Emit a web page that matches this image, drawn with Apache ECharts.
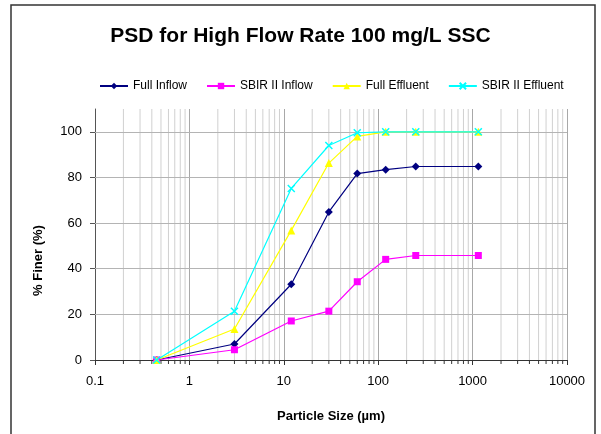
<!DOCTYPE html>
<html>
<head>
<meta charset="utf-8">
<script src="https://cdn.jsdelivr.net/npm/echarts@6/dist/echarts.min.js"></script>
<style>html,body{margin:0;padding:0;background:#fff}#c{width:601px;height:434px}</style>
</head>
<body>
<div id="c"></div>
<script>
const sizes = [0.45, 3, 12, 30, 60, 120, 250, 1150];
const fullInflow = [0, 7.0, 33.2, 64.9, 81.7, 83.4, 84.8, 84.8];
const sbirInflow = [0, 4.5, 17.1, 21.4, 34.3, 44.1, 45.8, 45.8];
const fullEffluent = [0, 13.6, 56.8, 86.3, 98.0, 100, 100, 100];
const sbirEffluent = [0, 21.4, 75.2, 94.0, 99.6, 100, 100, 100];
const minorX = [0.2,0.3,0.4,0.5,0.6,0.7,0.8,0.9,2,3,4,5,6,7,8,9,20,30,40,50,60,70,80,90,200,300,400,500,600,700,800,900,2000,3000,4000,5000,6000,7000,8000,9000];
const xTicks = [0.1, 1, 10, 100, 1000, 10000];
const yTicks = [0, 20, 40, 60, 80, 100];

const font = 'Liberation Sans, Arial, sans-serif';
function pairs(vals){ return sizes.map((s,i)=>[s, vals[i]]); }

const chart = echarts.init(document.getElementById('c'), null, {renderer:'canvas'});
const xSym = 'path://M0,0L10,10M10,0L0,10';
chart.setOption({
  animation:false,
  backgroundColor:'#fff',
  textStyle:{fontFamily:font},
  title:{text:'PSD for High Flow Rate 100 mg/L SSC', left:'center', top:21,
    textStyle:{fontFamily:font, fontSize:21, fontWeight:'bold', color:'#000'}},
  legend:{left:94, top:75, itemWidth:28, itemHeight:8, itemGap:19,
    textStyle:{fontFamily:font, fontSize:12, color:'#000'},
    data:['Full Inflow','SBIR II Inflow','Full Effluent','SBIR II Effluent']},
  grid:{left:95, right:34, top:109, bottom:74},
  xAxis:{type:'log', logBase:10, min:xTicks[0], max:xTicks[xTicks.length-1],
    name:'Particle Size (µm)', nameLocation:'middle', nameGap:50,
    nameTextStyle:{fontFamily:font, fontSize:13, fontWeight:'bold', color:'#000'},
    axisLine:{lineStyle:{color:'#333', width:1}},
    axisTick:{show:true, inside:false, length:5, lineStyle:{color:'#333'}},
    axisLabel:{fontFamily:font, fontSize:13, color:'#000', margin:15,
      formatter:v=>String(+v.toPrecision(3))},
    splitLine:{show:true, lineStyle:{color:'#a8a8a8', width:1}}},
  yAxis:{type:'value', min:0, max:110, interval:20,
    name:'% Finer (%)', nameLocation:'middle', nameGap:50,
    nameTextStyle:{fontFamily:font, fontSize:13, fontWeight:'bold', color:'#000', padding:[0,52,0,0]},
    axisLine:{show:true, lineStyle:{color:'#555', width:1}},
    axisTick:{show:true, inside:false, length:5, lineStyle:{color:'#555'}},
    axisLabel:{fontFamily:font, fontSize:13, color:'#000', margin:13, showMaxLabel:false,
      formatter:v=> yTicks.indexOf(v)>=0 ? String(v) : ''},
    splitLine:{show:false}},
  series:[
    {type:'custom', silent:true, z:0, data:minorX.map(v=>[v]),
      encode:{x:0}, clip:false,
      renderItem:function(params, api){
        const v = api.value(0);
        const p0 = api.coord([v, 0]);
        const p1 = api.coord([v, 110]);
        return {type:'group', children:[
          {type:'line', shape:{x1:p0[0], y1:p0[1], x2:p1[0], y2:p1[1]}, style:{stroke:'#d0d0d0', lineWidth:1}},
          {type:'line', z2:10, shape:{x1:p0[0], y1:p0[1], x2:p0[0], y2:p0[1]+4}, style:{stroke:'#333', lineWidth:1}}
        ]};
      },
      markLine:{silent:true, symbol:'none', label:{show:false}, z:1,
        lineStyle:{color:'#b4b4b4', width:1, type:'solid'},
        data:yTicks.slice(1).map(v=>({yAxis:v}))}},
    {name:'Full Inflow', type:'line', data:pairs(fullInflow), symbol:'diamond', symbolSize:8,
      itemStyle:{color:'#000080'}, lineStyle:{color:'#000080', width:1.2}, z:3},
    {name:'SBIR II Inflow', type:'line', data:pairs(sbirInflow), symbol:'rect', symbolSize:7,
      itemStyle:{color:'#FF00FF'}, lineStyle:{color:'#FF00FF', width:1.2}, z:3},
    {name:'Full Effluent', type:'line', data:pairs(fullEffluent), symbol:'triangle', symbolSize:8,
      itemStyle:{color:'#FFFF00'}, lineStyle:{color:'#FFFF00', width:1.2}, z:3},
    {name:'SBIR II Effluent', type:'line', data:pairs(sbirEffluent), symbol:xSym, symbolSize:7,
      itemStyle:{color:'#00FFFF', borderColor:'#00FFFF', borderWidth:1.5}, lineStyle:{color:'#00FFFF', width:1.2}, z:3}
  ],
  graphic:[{type:'rect', silent:true, z:100,
    shape:{x:11, y:5, width:584, height:440},
    style:{fill:null, stroke:'#333', lineWidth:1.5}}]
});
</script>
</body>
</html>
